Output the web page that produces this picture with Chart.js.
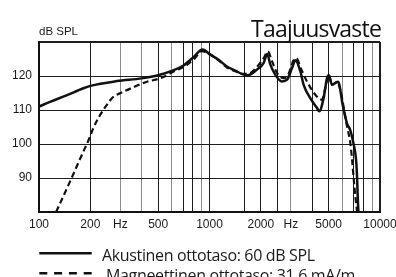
<!DOCTYPE html>
<html>
<head>
<meta charset="utf-8">
<script src="https://cdn.jsdelivr.net/npm/chart.js@4"></script>
<style>
  body { margin: 0; background: #fff; }
  #wrap { position: relative; width: 396px; height: 277px; overflow: hidden; }
  #wrap canvas, #wrap svg { position: absolute; left: 0; top: 0; }
  .txt { position: absolute; white-space: nowrap; line-height: 1; color: #1a1a1a; }
  #title { right: 15px; top: 12px; font: 23px "Open Sans", sans-serif; letter-spacing: -0.8px; color: #111; }
  #unit { left: 39px; top: 25px; font: 11.5px "Liberation Sans", sans-serif; }
  #leg1 { left: 102px; top: 244px; font: 16px "Open Sans", sans-serif; letter-spacing: -0.35px; }
  #leg2 { left: 106px; top: 264px; font: 16px "Open Sans", sans-serif; letter-spacing: -0.35px; }
</style>
</head>
<body>
<div id="wrap">
  <canvas id="responseChart" width="396" height="277"></canvas>
  <svg width="396" height="277">
    <line x1="39.3" y1="253.3" x2="91.7" y2="253.3" stroke="#111" stroke-width="2.5"/>
    <line x1="39.3" y1="273.3" x2="91.7" y2="273.3" stroke="#111" stroke-width="2.5" stroke-dasharray="8,6.8"/>
  </svg>
  <div class="txt" id="title">Taajuusvaste</div>
  <div class="txt" id="unit">dB SPL</div>
  <div class="txt" id="leg1">Akustinen ottotaso: 60 dB SPL</div>
  <div class="txt" id="leg2">Magneettinen ottotaso: 31.6 mA/m</div>
</div>
<script>
// Acoustic input (solid line): frequency in Hz, level in dB SPL
const acousticFreq = [100, 116, 145, 182, 200, 286, 400, 500, 600, 700, 800, 910, 1010, 1130, 1265, 1415, 1585, 1670, 1900, 2075, 2180, 2270, 2430, 2660, 2850, 3050, 3190, 3410, 3565, 3900, 4270, 4400, 4670, 4890, 5010, 5230, 5675, 6070, 6410, 6700, 7000, 7240, 7340, 7400, 7470];
const acousticDb   = [111, 112.4, 114.3, 116.4, 117.1, 118.5, 119.3, 120.2, 121.5, 123, 125.4, 127.8, 126.3, 124.8, 122.8, 121.6, 120.4, 120.2, 121.9, 123.8, 126.5, 123.5, 120.4, 118.4, 118.9, 122.4, 124.6, 121.4, 117.4, 113.5, 110.6, 109.6, 113.5, 119.4, 120.2, 117.4, 118.3, 111, 106, 104, 100, 95.3, 90, 84.5, 80];

// Magnetic input (dashed line)
const magneticFreq = [126, 156, 178, 199, 208, 228, 250, 273, 299, 358, 429, 513, 615, 737, 820, 900, 1010, 1130, 1265, 1415, 1585, 1700, 1900, 2075, 2200, 2320, 2490, 2720, 2900, 3110, 3230, 3450, 3730, 4175, 4570, 4780, 5010, 5230, 5600, 5990, 6200, 6410, 6700, 6860, 7007, 7170, 7340];
const magneticDb   = [80, 90.2, 96.7, 102.1, 104.6, 108.5, 111.5, 113.9, 114.9, 116.7, 118.3, 119.3, 121.3, 123.3, 125.2, 127.3, 126.3, 124.6, 122.5, 121.4, 120.6, 120.7, 122.7, 125.2, 127.2, 124.5, 120.9, 119.4, 120.5, 124.6, 125.2, 122, 118.4, 114.5, 113, 116.5, 120.3, 117.4, 118.3, 113.5, 109, 105.1, 100.2, 95.3, 89.9, 84.5, 80];

// Axis ticks / grid lines
const xTickValues = [100, 200, 300, 400, 500, 600, 700, 800, 900, 1000, 1600, 2000, 2500, 3000, 4000, 5000, 6000, 7000, 8000, 9000, 10000];
const xTickLabels = ['100', '200', 'Hz', '', '500', '', '', '', '', '1000', '', '2000', '', 'Hz', '', '5000', '', '', '', '', '10000'];
const yTickValues = [80, 90, 100, 110, 120, 130];
const yTickLabels = ['', '90', '100', '110', '120', ''];

// grid lines that look lighter in the original print
const lightLines = [300, 400, 600, 900, 3000, 6000, 9000];

const toPoints = (xs, ys) => xs.map((x, i) => ({ x: x, y: ys[i] }));
const tickFont = { family: '"Liberation Sans", sans-serif', size: 12 };

const chart = new Chart(document.getElementById('responseChart'), {
    type: 'line',
    data: {
        datasets: [
            {
                label: 'Akustinen ottotaso: 60 dB SPL',
                data: toPoints(acousticFreq, acousticDb),
                borderColor: '#111',
                borderWidth: 2.5,
                pointRadius: 0,
                cubicInterpolationMode: 'monotone',
                borderJoinStyle: 'round'
            },
            {
                label: 'Magneettinen ottotaso: 31.6 mA/m',
                data: toPoints(magneticFreq, magneticDb),
                borderColor: '#111',
                borderWidth: 2.2,
                borderDash: [6, 3.5],
                pointRadius: 0,
                cubicInterpolationMode: 'monotone'
            }
        ]
    },
    options: {
        responsive: false,
        animation: false,
        devicePixelRatio: 1,
        layout: { padding: { left: 0, right: 16, top: 42, bottom: 41 } },
        plugins: { legend: { display: false }, tooltip: { enabled: false } },
        scales: {
            x: {
                type: 'logarithmic',
                min: 100,
                max: 10000,
                afterBuildTicks: (scale) => { scale.ticks = xTickValues.map(v => ({ value: v })); },
                afterFit: (scale) => {
                    scale.height = 24;
                    scale.paddingLeft = 0;
                    scale.paddingRight = 0;
                },
                ticks: {
                    autoSkip: false,
                    maxRotation: 0,
                    padding: 5,
                    color: '#1a1a1a',
                    font: tickFont,
                    callback: (value) => xTickLabels[xTickValues.indexOf(value)]
                },
                grid: {
                    drawTicks: false,
                    color: (ctx) => lightLines.includes(ctx.tick && ctx.tick.value) ? '#8c8c8c' : '#1e1e1e',
                    lineWidth: (ctx) => (ctx.tick && ctx.tick.value === 10000) ? 2 : 1
                },
                border: { color: '#111', width: 2 }
            },
            y: {
                min: 80,
                max: 130,
                afterBuildTicks: (scale) => { scale.ticks = yTickValues.map(v => ({ value: v })); },
                afterFit: (scale) => {
                    scale.width = 39;
                    scale.paddingTop = 0;
                    scale.paddingBottom = 0;
                },
                ticks: {
                    padding: 7,
                    color: '#1a1a1a',
                    font: tickFont,
                    callback: (value) => yTickLabels[yTickValues.indexOf(value)]
                },
                grid: {
                    drawTicks: false,
                    color: '#1e1e1e',
                    lineWidth: (ctx) => (ctx.tick && ctx.tick.value === 130) ? 2 : 1
                },
                border: { color: '#111', width: 2 }
            }
        }
    }
});
</script>
</body>
</html>
